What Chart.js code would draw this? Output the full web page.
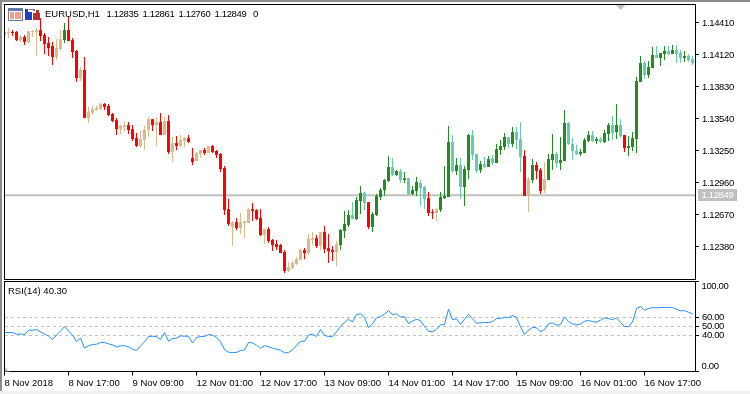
<!DOCTYPE html>
<html>
<head>
<meta charset="utf-8">
<script src="https://cdn.jsdelivr.net/npm/chart.js@4"></script>
<style>
html,body{margin:0;padding:0;background:#fff;overflow:hidden}
#page{position:relative;width:750px;height:394px;background:#fff;overflow:hidden}
#page canvas{position:absolute;left:0}
#edgeTop{position:absolute;left:0;top:0;width:750px;height:2px;background:#8c8c8c}
#edgeLeft{position:absolute;left:0;top:0;width:2px;height:391px;background:#8c8c8c}
#edgeBottom{position:absolute;left:0;top:391px;width:750px;height:3px;background:#f0f0f0}
</style>
</head>
<body>
<div id="page">
<canvas id="priceCanvas" width="750" height="280" style="top:0"></canvas>
<canvas id="rsiCanvas" width="750" height="114" style="top:280px"></canvas>
<div id="edgeTop"></div><div id="edgeLeft"></div><div id="edgeBottom"></div>
</div>
<script>
const symbolLabel = "EURUSD,H1";
const ohlcLabels = ["1.12835","1.12861","1.12760","1.12849","0"];
const rsiLabel = "RSI(14) 40.30";
const bidLevel = 1.12849;
const priceTicks = [1.14410,1.14120,1.13830,1.13540,1.13250,1.12960,1.12670,1.12380];
const rsiTicks = [100,60,50,40,0];
const rsiLevels = [60,50,40];
const timeTickIndex = [0,16,32,48,64,80,96,112,128,144,160];
const timeTickLabels = ["8 Nov 2018","8 Nov 17:00","9 Nov 09:00","12 Nov 01:00","12 Nov 17:00","13 Nov 09:00","14 Nov 01:00","14 Nov 17:00","15 Nov 09:00","16 Nov 01:00","16 Nov 17:00"];

const candleKinds = "TTRRTRTTTR"+"RRRTTGRRRT"+"RTTTTRRRRT"+"TRRRTTTRTR"+"TRTRTTRRTT"+"RTRRRRRTRT"+"TTRRRTRRRR"+"RTTTTRTTRT"+"RRRTGGGAGG"+"ARGGGGGAGA"+"GAGGAARRTG"+"GGAGAGGAAG"+"AGAGGGAGAA"+"RTGRRTGGAG"+"GAAAGGGAGA"+"GGAGARGGGG"+"AGGAGGAGAA"+"GAA";

const highs = [
1.14327,1.14363,1.14345,1.14336,1.14300,1.14300,1.14336,1.14345,1.14363,1.14453,
1.14318,1.14282,1.14236,1.14263,1.14345,1.14409,1.14463,1.14272,1.14164,1.14010,
1.14101,1.13648,1.13657,1.13657,1.13684,1.13684,1.13675,1.13593,1.13547,1.13484,
1.13511,1.13511,1.13484,1.13412,1.13430,1.13475,1.13557,1.13538,1.13557,1.13593,
1.13557,1.13575,1.13376,1.13385,1.13394,1.13376,1.13394,1.13275,1.13240,1.13258,
1.13275,1.13294,1.13303,1.13258,1.13231,1.13113,1.12813,1.12614,1.12641,1.12687,
1.12614,1.12731,1.12777,1.12722,1.12722,1.12550,1.12560,1.12451,1.12442,1.12406,
1.12351,1.12243,1.12252,1.12288,1.12360,1.12369,1.12497,1.12515,1.12488,1.12515,
1.12569,1.12497,1.12388,1.12433,1.12541,1.12705,1.12714,1.12786,1.12832,1.12932,
1.12877,1.12786,1.12696,1.12859,1.12913,1.12994,1.13204,1.13185,1.13076,1.13085,
1.13058,1.13003,1.12932,1.13013,1.12986,1.12932,1.12877,1.12722,1.12731,1.12877,
1.13113,1.13475,1.13394,1.13185,1.13185,1.13113,1.13403,1.13439,1.13222,1.13158,
1.13195,1.13204,1.13213,1.13312,1.13348,1.13412,1.13376,1.13466,1.13466,1.13511,
1.13258,1.13013,1.13176,1.13149,1.13094,1.13149,1.13222,1.13403,1.13240,1.13376,
1.13620,1.13511,1.13366,1.13303,1.13266,1.13366,1.13430,1.13430,1.13376,1.13376,
1.13439,1.13502,1.13566,1.13675,1.13538,1.13394,1.13385,1.13421,1.13920,1.14110,
1.14064,1.14064,1.14191,1.14200,1.14137,1.14200,1.14200,1.14209,1.14209,1.14164,1.14155,1.14128,1.14110];

const bodyTops = [
1.14327,1.14327,1.14327,1.14327,1.14282,1.14282,1.14336,1.14336,1.14345,1.14345,
1.14300,1.14227,1.14200,1.14182,1.14263,1.14345,1.14345,1.14254,1.14155,1.13983,
1.13983,1.13602,1.13629,1.13638,1.13675,1.13675,1.13657,1.13584,1.13529,1.13475,
1.13484,1.13484,1.13447,1.13366,1.13357,1.13439,1.13538,1.13538,1.13511,1.13511,
1.13520,1.13520,1.13321,1.13321,1.13348,1.13366,1.13366,1.13185,1.13231,1.13258,
1.13258,1.13294,1.13294,1.13249,1.13222,1.13094,1.12722,1.12605,1.12605,1.12605,
1.12614,1.12722,1.12722,1.12714,1.12641,1.12541,1.12541,1.12442,1.12406,1.12397,
1.12333,1.12198,1.12234,1.12269,1.12351,1.12351,1.12451,1.12460,1.12460,1.12515,
1.12515,1.12369,1.12351,1.12406,1.12533,1.12587,1.12669,1.12669,1.12804,1.12868,
1.12868,1.12786,1.12678,1.12841,1.12895,1.12986,1.13104,1.13104,1.13067,1.13067,
1.13003,1.13003,1.12895,1.12968,1.12959,1.12923,1.12822,1.12696,1.12722,1.12832,
1.12841,1.13330,1.13330,1.13122,1.13122,1.13085,1.13394,1.13394,1.13222,1.13131,
1.13131,1.13176,1.13185,1.13266,1.13294,1.13376,1.13376,1.13421,1.13421,1.13357,
1.13204,1.12994,1.13122,1.13122,1.13076,1.12994,1.13176,1.13222,1.13222,1.13167,
1.13502,1.13502,1.13312,1.13249,1.13240,1.13348,1.13394,1.13394,1.13357,1.13357,
1.13412,1.13484,1.13484,1.13484,1.13484,1.13394,1.13294,1.13366,1.13883,1.14046,
1.14046,1.14010,1.14119,1.14119,1.14137,1.14155,1.14155,1.14164,1.14164,1.14137,1.14110,1.14110,1.14082];

const bodyBottoms = [
1.14300,1.14318,1.14318,1.14254,1.14254,1.14236,1.14236,1.14327,1.14327,1.14291,
1.14218,1.14182,1.14101,1.14101,1.14173,1.14254,1.14245,1.14146,1.13910,1.13910,
1.13547,1.13547,1.13593,1.13620,1.13629,1.13648,1.13575,1.13520,1.13447,1.13447,
1.13466,1.13439,1.13357,1.13294,1.13294,1.13348,1.13439,1.13484,1.13484,1.13394,
1.13394,1.13240,1.13240,1.13294,1.13294,1.13339,1.13330,1.13149,1.13158,1.13222,
1.13231,1.13231,1.13240,1.13213,1.13085,1.12714,1.12587,1.12560,1.12550,1.12550,
1.12596,1.12596,1.12705,1.12632,1.12488,1.12488,1.12433,1.12397,1.12379,1.12324,
1.12161,1.12161,1.12188,1.12225,1.12261,1.12324,1.12324,1.12442,1.12388,1.12388,
1.12360,1.12342,1.12333,1.12333,1.12397,1.12524,1.12578,1.12632,1.12632,1.12795,
1.12777,1.12560,1.12560,1.12669,1.12832,1.12895,1.12977,1.13031,1.13031,1.12986,
1.12986,1.12859,1.12859,1.12886,1.12913,1.12813,1.12687,1.12687,1.12687,1.12714,
1.12822,1.12832,1.13067,1.13067,1.12923,1.12923,1.13076,1.13213,1.13067,1.13076,
1.13104,1.13104,1.13140,1.13140,1.13258,1.13285,1.13312,1.13312,1.13348,1.13195,
1.12841,1.12841,1.12986,1.13067,1.12886,1.12895,1.12986,1.13167,1.13140,1.13140,
1.13158,1.13312,1.13249,1.13222,1.13222,1.13231,1.13339,1.13339,1.13339,1.13330,
1.13330,1.13403,1.13412,1.13421,1.13385,1.13275,1.13275,1.13285,1.13357,1.13874,
1.13938,1.13938,1.14001,1.14092,1.14092,1.14128,1.14128,1.14128,1.14128,1.14092,1.14092,1.14073,1.14046];

const lows = [
1.14300,1.14272,1.14291,1.14245,1.14236,1.14209,1.14227,1.14282,1.14110,1.14245,
1.14128,1.14110,1.14028,1.14073,1.14164,1.14227,1.14245,1.14091,1.13874,1.13883,
1.13547,1.13502,1.13575,1.13611,1.13620,1.13620,1.13566,1.13511,1.13394,1.13403,
1.13430,1.13403,1.13339,1.13285,1.13285,1.13258,1.13376,1.13430,1.13294,1.13394,
1.13394,1.13222,1.13149,1.13258,1.13285,1.13285,1.13321,1.13122,1.13158,1.13185,
1.13213,1.13231,1.13231,1.13185,1.13058,1.12669,1.12569,1.12388,1.12533,1.12497,
1.12460,1.12596,1.12614,1.12623,1.12479,1.12406,1.12415,1.12342,1.12351,1.12324,
1.12143,1.12152,1.12179,1.12216,1.12261,1.12269,1.12306,1.12397,1.12369,1.12351,
1.12324,1.12234,1.12252,1.12206,1.12351,1.12460,1.12560,1.12632,1.12623,1.12678,
1.12714,1.12541,1.12515,1.12659,1.12804,1.12841,1.12968,1.13022,1.13022,1.12959,
1.12959,1.12850,1.12850,1.12841,1.12750,1.12722,1.12659,1.12632,1.12614,1.12696,
1.12813,1.12832,1.13049,1.13031,1.12813,1.12750,1.12994,1.13167,1.13049,1.13049,
1.13094,1.13104,1.13122,1.13140,1.13213,1.13258,1.13275,1.13285,1.13266,1.13058,
1.12841,1.12696,1.12959,1.12994,1.12859,1.12868,1.12986,1.13076,1.13094,1.13076,
1.13158,1.13303,1.13167,1.13213,1.13204,1.13231,1.13330,1.13330,1.13312,1.13321,
1.13321,1.13339,1.13348,1.13357,1.13366,1.13240,1.13204,1.13249,1.13231,1.13874,
1.13901,1.13910,1.14001,1.14092,1.14019,1.14073,1.14119,1.14128,1.14046,1.14046,1.14055,1.14055,1.14028];

const rsiValues = [
43.3,43.3,43.3,41.4,41.8,41.1,45.9,45.9,46.6,44,
41.8,39.2,35.5,40.3,45.1,50,45.1,40.3,33.3,37,
26.3,28.5,30,30.3,32.2,32.2,30.7,29.6,27.4,28.5,
28.8,27.4,24.8,23.3,28.5,32.9,38.8,39.2,38.8,35.5,
43.3,33.7,36.6,37,39.6,39.2,39.2,31.8,37.7,38.8,
38.8,41.1,40.3,38.1,32.9,24.4,21.4,21.1,21.1,23.3,
24,32.2,31.8,29.2,25.5,28.8,27.4,25.9,24.8,23.7,
20.7,21.1,24,29.2,33.3,33.7,40.3,41.8,38.8,46.6,
40.3,38.8,38.8,44,50.3,54.4,58.1,55.1,63.3,64,
60,48.8,52.9,59.6,61.1,63.7,67.7,63.3,64,60.7,
60.7,53.3,55.9,58.1,56.6,50,44.8,44,47,51.8,
52.2,69.2,57.7,58.5,52.2,58.1,63.3,58.5,53.7,54,
54.4,54.4,55.5,58.8,58.8,60.3,59.6,62.2,60,49.6,
41.1,45.9,49.2,48.5,44,46.6,52.9,54,51.4,52.2,
60.7,55.5,52.9,52.2,52.6,55.9,56.6,55.5,54.8,57,
59.6,58.8,57.7,59.6,54.4,50,50,55.1,70,72.2,
68.1,70,71.1,70.7,71.1,71.1,71.1,71.1,69.2,67.4,67.7,65.9,64];

const kindColors = {R:"#ff0000",T:"#deb887",G:"#228b22",A:"#66cdaa"};
const FONT_FAMILY = "'Liberation Sans', Arial, sans-serif";
const FONT_SIZE = 9.5;
const NUMBER_SPACING = "-0.35px";
const barColors = candleKinds.split("").map(k => kindColors[k]);
const xMin = 0.125, xMax = 172.625;

function drawFrame(chart){
  const c = chart.ctx, a = chart.chartArea;
  const top = Math.floor(a.top-0.5)+0.5, bottom = Math.floor(a.bottom)+0.5;
  c.save();
  c.strokeStyle = "#000"; c.lineWidth = 1;
  c.strokeRect(Math.floor(a.left)-0.5, top, Math.round(a.right-a.left)+1, bottom-top);
  c.restore();
}
function label(c, text, x, y, color, spacing){
  c.font = FONT_SIZE+"px "+FONT_FAMILY;
  c.letterSpacing = spacing || "0px";
  c.fillStyle = color || "#000";
  c.textAlign = "left"; c.textBaseline = "middle";
  c.fillText(text, x, y);
  c.letterSpacing = "0px";
}
const priceDecor = {
  id:"priceDecor",
  afterDraw(chart){
    drawFrame(chart);
    const c = chart.ctx;
    c.save();
    // toolbar icons
    c.fillStyle="#6f7a90"; c.fillRect(8,8,15,13);
    c.fillStyle="#fff"; c.fillRect(9,9,13,11);
    c.fillStyle="#5a78c8"; c.fillRect(9,9,13,2);
    c.fillStyle="#f0a090"; c.fillRect(10,12,4,7); c.fillRect(15,12,6,7);
    c.fillStyle="#2040c0"; c.fillRect(25,12,7,8); c.fillRect(25,9,3,3);
    c.fillStyle="#b83030"; c.fillRect(33,13,7,7); c.fillRect(36,10,3,3);
    c.fillStyle="#808080"; c.fillRect(29,9,6,1); c.fillRect(33,9,2,2);
    // header
    label(c, symbolLabel, 45, 14.5);
    const xs=[106.5,142.5,178.5,214.5,253];
    ohlcLabels.forEach((t,i)=>label(c,t,xs[i],14.5,"#000",NUMBER_SPACING));
    // bid price box
    const by = chart.scales.y.getPixelForValue(bidLevel);
    c.fillStyle="#c0c0c0"; c.fillRect(698,Math.round(by)-6,39,12);
    label(c, bidLevel.toFixed(5), 701.5, by+0.5, "#fff", NUMBER_SPACING);
    // shift marker
    c.fillStyle="#c0c0c0";
    c.beginPath(); c.moveTo(616,5); c.lineTo(625.5,5); c.lineTo(620.5,10); c.closePath(); c.fill();
    c.restore();
  }
};
const rsiDecor = {
  id:"rsiDecor",
  afterDraw(chart){
    drawFrame(chart);
    const c = chart.ctx, s = chart.scales.y;
    c.save();
    label(c, rsiLabel, 8, 11);
    label(c, "100.00", 701.5, s.getPixelForValue(100)+5, "#000", NUMBER_SPACING);
    label(c, "0.00", 701.5, s.getPixelForValue(0)-5.5, "#000", NUMBER_SPACING);
    c.fillStyle="#c0c0c0";
    c.beginPath(); c.moveTo(5,87); c.lineTo(9.5,91.5); c.lineTo(5,91.5); c.closePath(); c.fill();
    c.restore();
  }
};
const tickFont = {family:FONT_FAMILY,size:FONT_SIZE};
const base = {responsive:false,animation:false,events:[],devicePixelRatio:1,plugins:{legend:{display:false},tooltip:{enabled:false}}};
function fitY(s){
  s.width=55;s.paddingTop=0;s.paddingBottom=0;
  if(!s.spacedLabels){
    const draw=s.drawLabels;
    s.drawLabels=function(a){this.ctx.letterSpacing=NUMBER_SPACING;draw.call(this,a);this.ctx.letterSpacing="0px";};
    s.spacedLabels=true;
  }
}

new Chart(document.getElementById("priceCanvas"),{
  type:"bar",
  data:{datasets:[
    {type:"line",order:3,data:[{x:xMin,y:bidLevel},{x:xMax,y:bidLevel}],borderColor:"#c0c0c0",borderWidth:2,pointRadius:0},
    {order:2,grouped:false,barThickness:1,inflateAmount:0,borderWidth:0,backgroundColor:barColors,data:highs.map((h,i)=>({x:i,y:[lows[i],h]}))},
    {order:1,grouped:false,barThickness:3,inflateAmount:0,borderWidth:0,backgroundColor:barColors,data:bodyTops.map((t,i)=>({x:i,y:[bodyBottoms[i],t]}))}
  ]},
  options:{...base,
    layout:{padding:{left:5,top:5,right:0,bottom:1}},
    scales:{
      x:{type:"linear",offset:false,min:xMin,max:xMax,display:false},
      y:{position:"right",min:1.12089,max:1.14572,
        afterFit:fitY,
        afterBuildTicks(s){s.ticks=priceTicks.map(v=>({value:v}));},
        border:{display:false},
        grid:{drawOnChartArea:false,drawTicks:true,tickLength:4,color:"#000"},
        ticks:{color:"#000",font:tickFont,padding:3,autoSkip:false,callback:v=>v.toFixed(5)}
      }
    }
  },
  plugins:[priceDecor]
});

new Chart(document.getElementById("rsiCanvas"),{
  type:"line",
  data:{datasets:[
    {order:1,data:rsiValues.map((v,i)=>({x:i,y:v})),borderColor:"#1e90ff",borderWidth:1,pointRadius:0,tension:0},
    ...rsiLevels.map(l=>({order:2,data:[{x:xMin,y:l},{x:xMax,y:l}],borderColor:"#c0c0c0",borderWidth:1,borderDash:[3,3],pointRadius:0}))
  ]},
  options:{...base,
    layout:{padding:{left:5,top:1.5,right:0,bottom:0}},
    scales:{
      x:{type:"linear",position:"bottom",offset:false,min:xMin,max:xMax,
        afterFit(s){s.height=22.5;s.paddingLeft=0;s.paddingRight=0;},
        afterBuildTicks(s){s.ticks=timeTickIndex.map(v=>({value:v}));},
        border:{display:false},
        grid:{drawOnChartArea:false,drawTicks:true,tickLength:4,color:"#000"},
        ticks:{color:"#000",font:tickFont,padding:2,align:"start",maxRotation:0,autoSkip:false,
          callback:v=>timeTickLabels[timeTickIndex.indexOf(v)]}
      },
      y:{position:"right",min:0,max:100,
        afterFit:fitY,
        afterBuildTicks(s){s.ticks=rsiTicks.map(v=>({value:v}));},
        border:{display:false},
        grid:{drawOnChartArea:false,drawTicks:true,tickLength:4,color:"#000"},
        ticks:{color:"#000",font:tickFont,padding:3,autoSkip:false,
          callback:v=>(v===100||v===0)?"":v.toFixed(2)}
      }
    }
  },
  plugins:[rsiDecor]
});
</script>
</body>
</html>
